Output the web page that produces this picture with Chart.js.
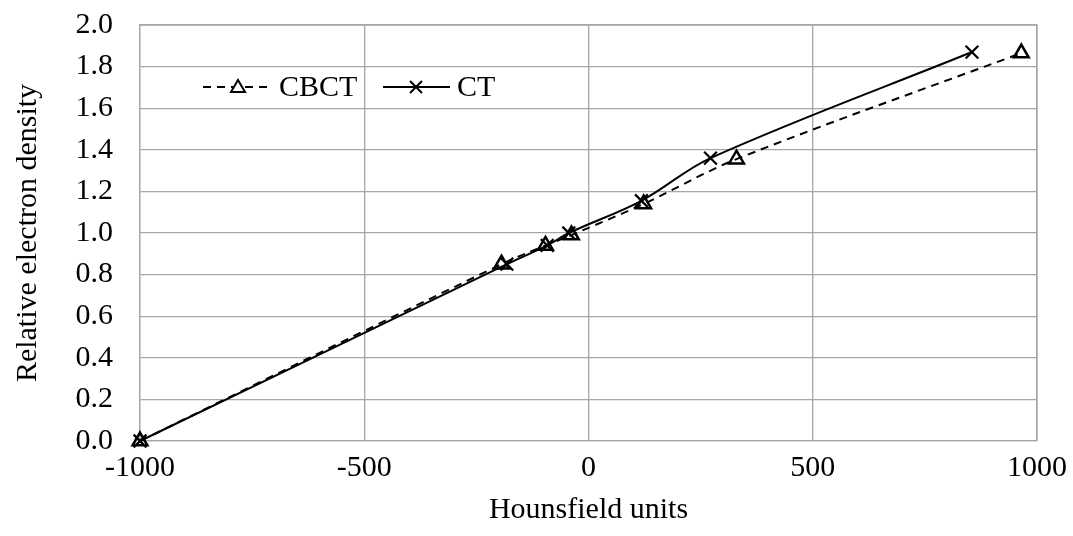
<!DOCTYPE html>
<html><head><meta charset="utf-8">
<script src="https://cdn.jsdelivr.net/npm/chart.js@4/dist/chart.umd.min.js"></script>
<style>html,body{margin:0;padding:0;background:#fff}#wrap{width:1073px;height:536px}</style>
</head><body><div id="wrap"><canvas id="c" width="1073" height="536"></canvas></div>
<script>
const cbctHU = [-1000, -194, -96, -38, 123, 330, 965];
const cbctRED = [0.00, 0.85, 0.94, 0.99, 1.14, 1.355, 1.865];
const ctHU = [-1000, -182, -92, -44, 118, 272, 855];
const ctRED = [0.00, 0.85, 0.94, 1.00, 1.155, 1.36, 1.87];
const xTicks = [-1000, -500, 0, 500, 1000];
const seriesNames = ['CBCT', 'CT'];
const FONT = '"Liberation Serif", "Times New Roman", serif';
const FS = 30;

const toPts = (xs, ys) => xs.map((x, i) => ({x, y: ys[i]}));

const legendPlugin = {
  id: 'inlegend',
  afterDraw(chart) {
    const ctx = chart.ctx;
    ctx.save();
    ctx.strokeStyle = '#000';
    ctx.lineWidth = 2;
    const y = 87;
    ctx.setLineDash([8, 6]);
    ctx.beginPath(); ctx.moveTo(203, y); ctx.lineTo(272, y); ctx.stroke();
    ctx.setLineDash([]);
    ctx.fillStyle = '#fff';
    ctx.beginPath(); ctx.moveTo(238, y - 7); ctx.lineTo(245, y + 5); ctx.lineTo(231, y + 5); ctx.closePath(); ctx.fill(); ctx.stroke();
    ctx.beginPath(); ctx.moveTo(383, y); ctx.lineTo(450, y); ctx.stroke();
    ctx.beginPath(); ctx.moveTo(410, y - 6); ctx.lineTo(422, y + 6); ctx.moveTo(422, y - 6); ctx.lineTo(410, y + 6); ctx.stroke();
    ctx.fillStyle = '#000';
    ctx.font = FS + 'px ' + FONT;
    ctx.textBaseline = 'middle';
    ctx.fillText(seriesNames[0], 279, y + 1);
    ctx.fillText(seriesNames[1], 457, y + 1);
    ctx.restore();
  }
};

new Chart(document.getElementById('c'), {
  type: 'scatter',
  data: {
    datasets: [
      {label: seriesNames[0], data: toPts(cbctHU, cbctRED), showLine: true, tension: 0.35, clip: false,
       borderColor: '#000', borderWidth: 2, borderDash: [8, 6], pointStyle: 'triangle', pointRadius: 8.5,
       pointBorderWidth: 2.5, pointBackgroundColor: 'rgba(255,255,255,0)', pointBorderColor: '#000'},
      {label: seriesNames[1], data: toPts(ctHU, ctRED), showLine: true, tension: 0.35, clip: false,
       borderColor: '#000', borderWidth: 2, pointStyle: 'crossRot', pointRadius: 9,
       pointBorderWidth: 2.2, pointBorderColor: '#000'}
    ]
  },
  options: {
    responsive: false, animation: false,
    layout: {padding: {top: 25, right: 36, left: 0, bottom: 0}},
    plugins: {legend: {display: false}, tooltip: {enabled: false}},
    scales: {
      x: {
        type: 'linear', min: -1000, max: 1000,
        afterBuildTicks: s => { s.ticks = xTicks.map(v => ({value: v})); },
        afterFit: s => { s.height = 95; s.paddingLeft = 0; s.paddingRight = 0; },
        grid: {color: '#a6a6a6', lineWidth: 1.3, drawTicks: false},
        border: {color: '#a6a6a6', width: 1.3},
        ticks: {padding: 9, color: '#000', font: {family: FONT, size: FS}, maxRotation: 0,
                callback: v => String(v)},
        title: {display: true, text: 'Hounsfield units', color: '#000', font: {family: FONT, size: FS}, padding: {top: 0, bottom: 8}}
      },
      y: {
        min: 0, max: 2,
        afterFit: s => { s.width = 140; s.paddingTop = 0; s.paddingBottom = 0; },
        grid: {color: '#a6a6a6', lineWidth: 1.3, drawTicks: false},
        border: {color: '#a6a6a6', width: 1.3},
        ticks: {stepSize: 0.2, padding: 27, color: '#000', font: {family: FONT, size: FS},
                callback: v => v.toFixed(1)},
        title: {display: true, text: 'Relative electron density', color: '#000', font: {family: FONT, size: FS}, padding: {top: 10, bottom: 0}}
      }
    }
  },
  plugins: [legendPlugin, {
    id: 'frame',
    afterDraw(chart) {
      const a = chart.chartArea, ctx = chart.ctx;
      ctx.save(); ctx.strokeStyle = '#a6a6a6'; ctx.lineWidth = 1.3;
      ctx.beginPath(); ctx.moveTo(a.left, a.top); ctx.lineTo(a.right, a.top); ctx.lineTo(a.right, a.bottom); ctx.stroke();
      ctx.restore();
    }
  }]
});
</script></body></html>
